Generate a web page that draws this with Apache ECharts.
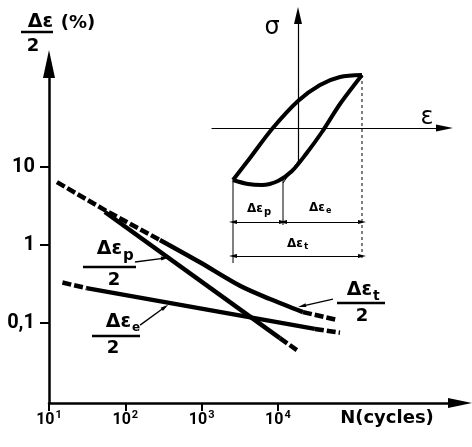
<!DOCTYPE html>
<html>
<head>
<meta charset="utf-8">
<script src="https://cdn.jsdelivr.net/npm/echarts@6/dist/echarts.min.js"></script>
<style>
html, body { margin: 0; padding: 0; background: #fff; }
#chart { width: 472px; height: 447px; }
</style>
</head>
<body>
<div id="chart"></div>
<script>
// strain-life curves: N (cycles) vs strain amplitude (%)
const totalHead = [[12.7, 6.4], [54, 2.8], [284, 1.16]]
const totalBody = [[284, 1.16], [950, 0.6], [3180, 0.3], [7850, 0.203], [21300, 0.138]]
const totalTail = [[21300, 0.138], [61000, 0.109]]
const plasticBody = [[54, 2.65], [10600, 0.064]]
const plasticTail = [[10600, 0.064], [17700, 0.045]]
const elasticHead = [[15, 0.33], [31, 0.28]]
const elasticBody = [[31, 0.28], [30500, 0.084]]
const elasticTail = [[30500, 0.084], [65000, 0.075]]

const xTicks = [10, 100, 1000, 10000]
const xTickExp = ['1', '2', '3', '4']
const yTicks = [0.1, 1, 10]
const yTickLabels = ['0,1', '1', '10']

// leader arrows from the labels to the curves
const leaderP = [[134, 0.605], [331, 0.68]]
const leaderE = [[156, 0.094], [331, 0.16]]
const leaderT = [[52600, 0.203], [20700, 0.165]]

// inset: hysteresis loop, eps / sigma in arbitrary units
const loopUpper = [[-65, -52], [-48, -30], [-26, -1], [0, 27], [22, 43], [42, 51], [64, 53]]
const loopLower = [[-65, -52], [-50, -56], [-36, -57], [-20, -53], [-6, -43], [8, -26], [24, -4], [42, 24], [64, 53]]
const elasticSlope = [[-15, -55], [1, -32]]
const extLeft = [[-65, -52], [-65, -135]]
const extMid = [[-15, -50], [-15, -97]]
const extRight = [[64, 53], [64, -132]]
const dimP = [[-65, -94], [-15, -94]]
const dimE = [[-15, -94], [64, -94]]
const dimT = [[-65, -128], [64, -128]]

const FONT = 'DejaVu Sans'

function findIndex(ticks, v) {
    return ticks.findIndex(t => Math.abs(t - v) / t < 1e-6)
}

function curve(data, dashed, smooth) {
    return {
        type: 'line', xAxisIndex: 0, yAxisIndex: 0, data,
        symbol: 'none', silent: true, smooth: smooth || false,
        lineStyle: {color: '#000', width: 4.5, type: dashed ? [9, 3] : 'solid', cap: 'butt'}
    }
}

function insetLine(data, width, dashed, smooth) {
    return {
        type: 'line', xAxisIndex: 1, yAxisIndex: 1, data, clip: false,
        symbol: 'none', silent: true, smooth: smooth || false,
        lineStyle: {color: '#000', width, type: dashed ? [3, 3] : 'solid', join: 'round'}
    }
}

// "Δε" + subscript, right end of Δε at x
function deltaEps(x, y, sub, big, small, subDy) {
    return [
        {type: 'text', x, y, style: {text: 'Δε', font: 'bold ' + big + 'px ' + FONT, fill: '#000',
            align: 'right', verticalAlign: 'middle', textAlign: 'right', textVerticalAlign: 'middle'}},
        {type: 'text', x: x + 1, y: y + subDy, style: {text: sub, font: 'bold ' + small + 'px ' + FONT, fill: '#000',
            align: 'left', verticalAlign: 'middle', textAlign: 'left', textVerticalAlign: 'middle'}}
    ]
}

function bar(x1, x2, y) {
    return {type: 'line', shape: {x1, y1: y, x2, y2: y}, style: {stroke: '#000', lineWidth: 2.5}}
}

function two(x, y, size) {
    return {type: 'text', x, y, style: {text: '2', font: 'bold ' + size + 'px ' + FONT, fill: '#000',
        align: 'center', verticalAlign: 'middle', textAlign: 'center', textVerticalAlign: 'middle'}}
}

function plain(x, y, text, font) {
    return {type: 'text', x, y, style: {text, font, fill: '#000',
        align: 'center', verticalAlign: 'middle', textAlign: 'center', textVerticalAlign: 'middle'}}
}

let graphics = [].concat(
    // y axis title
    deltaEps(53, 22, '', 19, 12, 0),
    [plain(78, 23, '(%)', 'bold 18px ' + FONT), bar(21, 53, 32), two(33, 46, 18)],
    // plastic
    deltaEps(122, 249, 'p', 19, 15, 7),
    [bar(83, 136, 267), two(114, 280, 18)],
    // elastic
    deltaEps(131, 322, 'e', 19, 12, 6),
    [bar(92, 140, 336), two(113, 348, 18)],
    // total
    deltaEps(372, 290, 't', 19, 14, 6),
    [bar(337, 385, 303), two(362, 316, 18)],
    // inset
    [plain(272, 28, 'σ', '24px ' + FONT), plain(427, 118, 'ε', '24px ' + FONT)],
    deltaEps(263, 209, 'p', 12, 10, 3),
    deltaEps(325, 208, 'e', 12, 8, 3),
    deltaEps(303, 244, 't', 12, 9, 3),
    [plain(387, 418, 'N(cycles)', 'bold 18px ' + FONT)]
)

let chart = echarts.init(document.getElementById('chart'), null, {renderer: 'canvas'})
chart.setOption({
    animation: false,
    backgroundColor: '#fff',
    grid: [
        {left: 49, right: 12, top: 64, bottom: 44},
        {left: 212, right: 27.5, top: 15.5, bottom: 285}
    ],
    xAxis: [
        {
            type: 'log', gridIndex: 0, min: 10, max: 2.43e6,
            axisLine: {onZero: false, symbol: ['none', 'triangle'], symbolSize: [10, 24],
                lineStyle: {color: '#000', width: 2.5}},
            axisTick: {customValues: xTicks, length: 8, lineStyle: {color: '#000', width: 2}},
            axisLabel: {customValues: xTicks, showMinLabel: true, margin: 7,
                formatter: v => {
                    let i = findIndex(xTicks, v)
                    return i < 0 ? '' : '{b|10}{s|' + xTickExp[i] + '}'
                },
                rich: {
                    b: {color: '#000', fontFamily: 'Roboto', fontWeight: 'bold', fontSize: 16},
                    s: {color: '#000', fontFamily: 'Roboto', fontWeight: 'bold', fontSize: 11, padding: [0, 0, 9, 1]}
                }},
            splitLine: {show: false}, minorTick: {show: false}
        },
        {
            type: 'value', gridIndex: 1, min: -86, max: 146.5,
            axisLine: {onZero: true, symbol: ['none', 'triangle'], symbolSize: [7, 17],
                lineStyle: {color: '#000', width: 1.2}},
            axisTick: {show: false}, axisLabel: {show: false}, splitLine: {show: false}
        }
    ],
    yAxis: [
        {
            type: 'log', gridIndex: 0, min: 0.00943, max: 209,
            axisLine: {onZero: false, symbol: ['none', 'triangle'], symbolSize: [12, 28],
                lineStyle: {color: '#000', width: 2.5}},
            axisTick: {customValues: yTicks, length: 9, lineStyle: {color: '#000', width: 2}},
            axisLabel: {customValues: yTicks, showMinLabel: true, margin: 14,
                formatter: v => {
                    let i = findIndex(yTicks, v)
                    return i < 0 ? '' : yTickLabels[i]
                },
                color: '#000', fontFamily: 'Roboto', fontWeight: 'bold', fontSize: 20},
            splitLine: {show: false}, minorTick: {show: false}
        },
        {
            type: 'value', gridIndex: 1, min: -34, max: 112.5,
            axisLine: {onZero: true, symbol: ['none', 'triangle'], symbolSize: [8, 17],
                lineStyle: {color: '#000', width: 1.2}},
            axisTick: {show: false}, axisLabel: {show: false}, splitLine: {show: false}
        }
    ],
    series: [
        curve(totalHead, true),
        curve(totalBody, false, 0.3),
        curve(totalTail, true),
        curve(plasticBody, false),
        curve(plasticTail, true),
        curve(elasticHead, true),
        curve(elasticBody, false),
        curve(elasticTail, true),
        {
            type: 'lines', coordinateSystem: 'cartesian2d', xAxisIndex: 0, yAxisIndex: 0,
            silent: true, symbol: ['none', 'triangle'], symbolSize: [[4, 8], [4, 8]],
            lineStyle: {color: '#000', width: 1.3, opacity: 1, curveness: 0},
            data: [{coords: leaderP}, {coords: leaderE}, {coords: leaderT}]
        },
        insetLine(loopUpper, 4, false, 0.3),
        insetLine(loopLower, 4, false, 0.3),
        insetLine(elasticSlope, 1, false),
        insetLine(extLeft, 1, false),
        insetLine(extMid, 1, false),
        insetLine(extRight, 1, true),
        {
            type: 'lines', coordinateSystem: 'cartesian2d', xAxisIndex: 1, yAxisIndex: 1,
            clip: false, silent: true, symbol: ['triangle', 'triangle'], symbolSize: [[4, 8], [4, 8]],
            lineStyle: {color: '#000', width: 1, opacity: 1, curveness: 0},
            data: [{coords: dimP}, {coords: dimE}, {coords: dimT}]
        }
    ],
    graphic: graphics
})
</script>
</body>
</html>
